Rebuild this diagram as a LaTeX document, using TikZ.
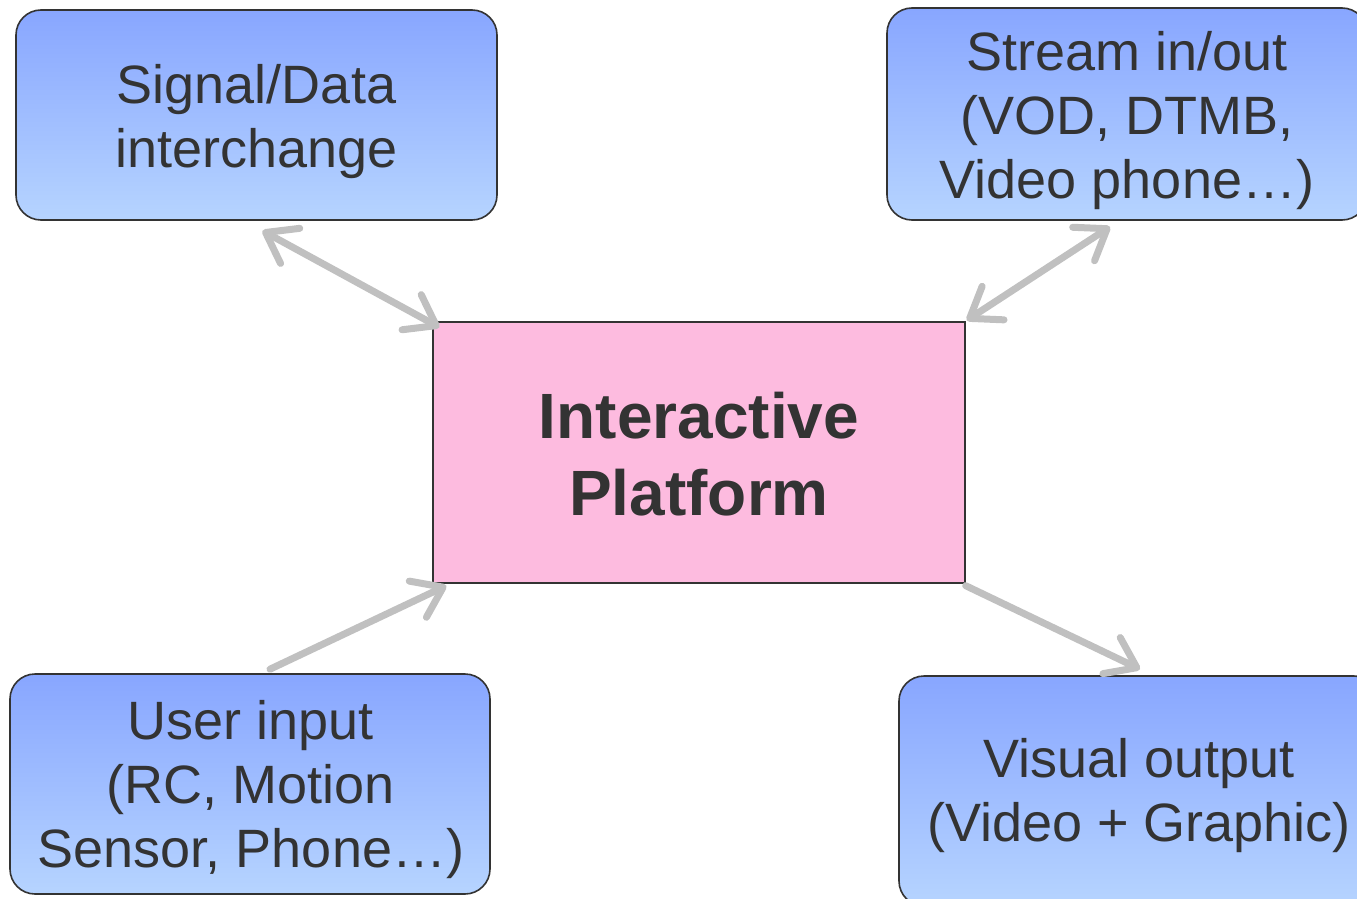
\documentclass[tikz,border=0pt]{standalone}
\usepackage{fontspec}
\setmainfont{Liberation Sans}
\usetikzlibrary{arrows.meta}
\definecolor{btop}{HTML}{88A6FF}
\definecolor{bbot}{HTML}{B6D4FF}
\definecolor{pinkf}{HTML}{FDBBDF}
\definecolor{txt}{HTML}{333333}
\definecolor{arr}{HTML}{C0C0C0}
\tikzset{
  bluebox/.style={draw=txt, line width=1.6pt, rounded corners=25pt, top color=btop, bottom color=bbot, inner sep=0pt},
  bluetext/.style={inner sep=0pt, align=center, text=txt, font=\fontsize{54}{64}\selectfont},
  centerbox/.style={draw=txt, line width=1.4pt, fill=pinkf, inner sep=0pt},
  centertext/.style={inner sep=0pt, align=center, text=txt, font=\fontsize{64}{77}\selectfont\bfseries},
  conn/.style={draw=arr, line width=7pt, line cap=round,
    arrows={-Straight Barb[length=28pt,width=40pt,round]}},
  conn2/.style={conn, arrows={Straight Barb[length=28pt,width=40pt,round]-Straight Barb[length=28pt,width=40pt,round]}}
}
\begin{document}
\begin{tikzpicture}[x=1pt,y=-1pt]
\useasboundingbox (0,0) rectangle (1357,899);
\clip (0,0) rectangle (1357,899);
\node[bluebox, minimum width=481pt, minimum height=210pt] (sig) at (256.5,115) {};
\node[bluetext] (sigt) at ([shift={(0,7)}]sig.center) {Signal/Data\\interchange};
\node[bluebox, minimum width=480pt, minimum height=212pt] (str) at (1127,114) {};
\node[bluetext] (strt) at ([shift={(0,7)}]str.center) {Stream in/out\\(VOD, DTMB,\\Video phone…)};
\node[bluebox, minimum width=480pt, minimum height=220pt] (usr) at (250,784) {};
\node[bluetext] (usrt) at ([shift={(1,6)}]usr.center) {User input\\(RC, Motion\\Sensor, Phone…)};
\node[bluebox, minimum width=480pt, minimum height=230pt] (vis) at (1139,791) {};
\node[bluetext] (vist) at ([shift={(0,5)}]vis.center) {Visual output\\(Video + Graphic)};
\node[centerbox, minimum width=532pt, minimum height=261pt] (cen) at (699,452.5) {};
\node[centertext] (cent) at ([shift={(0,2)}]cen.center) {Interactive\\Platform};
\draw[conn2] ([shift={(6,10)}]sig.south) -- ([shift={(7,6)}]cen.north west);
\draw[conn2] ([shift={(-17,6)}]str.south) -- ([shift={(1,-1)}]cen.north east);
\draw[conn] ([shift={(20,-4)}]usr.north) -- ([shift={(14,2)}]cen.south west);
\draw[conn] ([shift={(0,2)}]cen.south east) -- ([shift={(1,-6)}]vis.north);
\end{tikzpicture}
\end{document}
